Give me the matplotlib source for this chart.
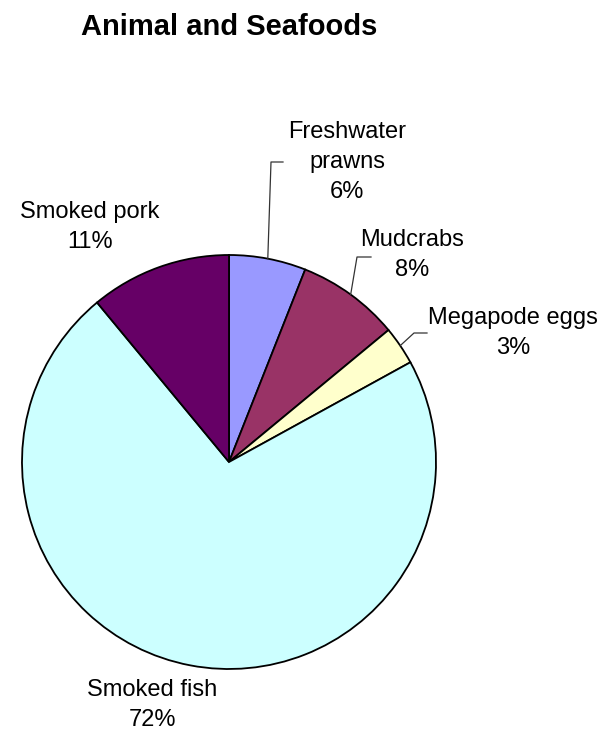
import matplotlib.pyplot as plt
import numpy as np

plt.rcParams['font.family'] = ['Liberation Sans', 'DejaVu Sans']

# datos del grafico
categorias = ['Freshwater\nprawns', 'Mudcrabs', 'Megapode eggs', 'Smoked fish', 'Smoked pork']
porcentajes = [6, 8, 3, 72, 11]
colores = ['#9999FF', '#993366', '#FFFFCC', '#CCFFFF', '#660066']

# posiciones de las etiquetas (pixeles, y hacia arriba) y del codo de la linea guia
pos_etiquetas = [(347, 571), (412, 478), (513, 400), (152, 28), (90, 506)]
codos = [(271, 571, 283), (357, 476, 371), (414, 400, 427), None, None]

W, H = 599, 733
centro = (229, H - 462)
radio = 207

fig = plt.figure(figsize=(W / 100, H / 100), dpi=100)
ax = fig.add_axes([0, 0, 1, 1])

wedges, _ = ax.pie(porcentajes, colors=colores, startangle=90, counterclock=False,
                   center=centro, radius=radio,
                   wedgeprops=dict(edgecolor='black', linewidth=1.3))

# la tarta cambia los limites, asi que los ponemos despues
ax.set_xlim(0, W)
ax.set_ylim(0, H)
ax.set_aspect('equal')
ax.axis('off')

for w, cat, p, (tx, ty), codo in zip(wedges, categorias, porcentajes, pos_etiquetas, codos):
    ax.text(tx, ty, f'{cat}\n{p}%', ha='center', va='center', fontsize=17,
            linespacing=1.5)
    if codo is not None:
        ang = np.deg2rad((w.theta1 + w.theta2) / 2)
        x0 = centro[0] + radio * np.cos(ang)
        y0 = centro[1] + radio * np.sin(ang)
        bx, by, ex = codo
        ax.plot([x0, bx, ex], [y0, by, by], color='#333333', linewidth=0.9)

fig.text(229 / W, 1 - 27 / H, 'Animal and Seafoods', ha='center', va='center',
         fontsize=21, fontweight='bold')

plt.savefig('out.png', dpi=100)
